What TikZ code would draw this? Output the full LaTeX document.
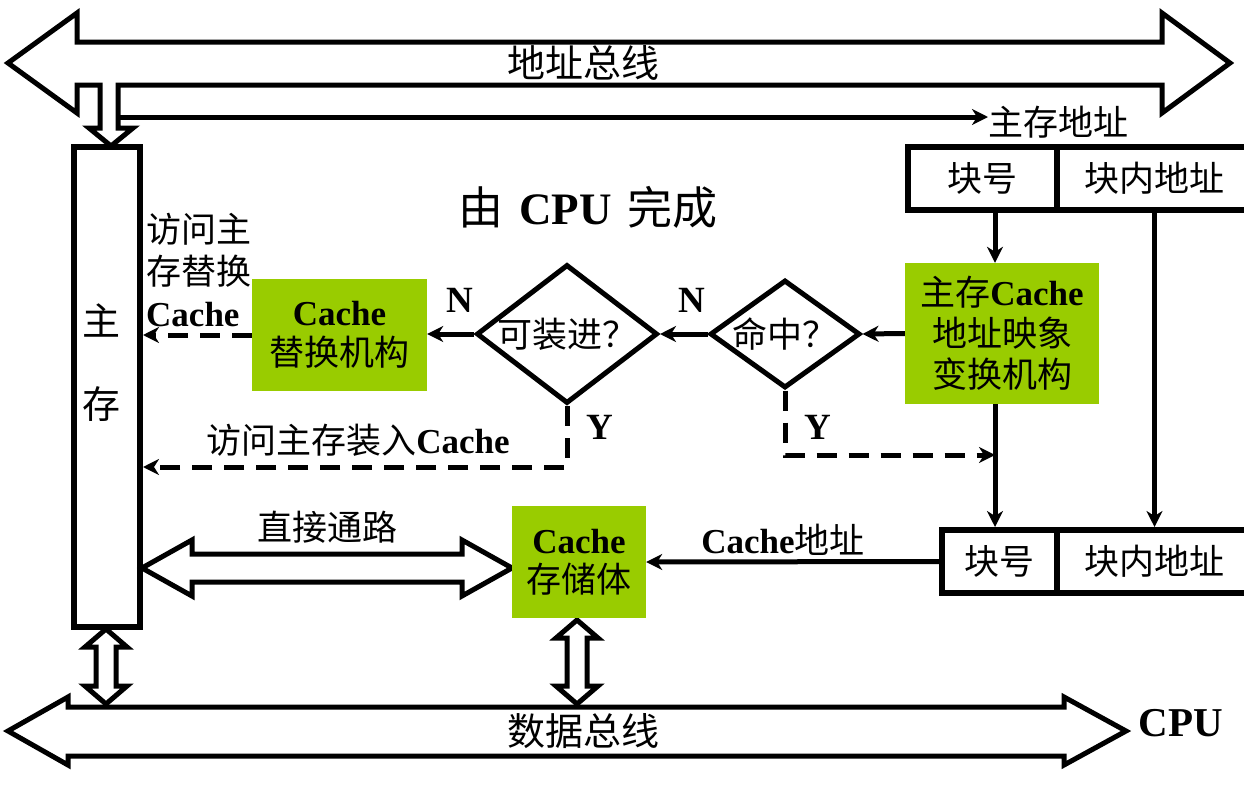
\documentclass[tikz,border=0pt]{standalone}
\usepackage{fontspec}
\setmainfont{Noto Sans CJK SC}
\newfontfamily\tnr{Liberation Serif}
\newcommand{\en}[1]{{\tnr\bfseries #1}}
\usetikzlibrary{arrows.meta,shapes.geometric}
\definecolor{leaf}{RGB}{153,204,0}
\tikzset{
  ar/.style={-{Stealth[length=16pt,width=16pt,inset=5pt]},line width=5pt},
  dar/.style={ar,dash pattern=on 20pt off 12pt},
  bus/.style={line width=5pt,fill=white,line join=miter},
  box/.style={draw,line width=6pt,minimum height=63pt,inner sep=0pt},
  unit/.style={fill=leaf,inner sep=0pt,align=center,font=\fontsize{35}{41}\selectfont},
  test/.style={diamond,draw,line width=5pt,inner sep=-8pt},
  every node/.append style={font=\fontsize{35}{41}\selectfont}
}
\begin{document}
\begin{tikzpicture}[x=1pt,y=-1pt]
\useasboundingbox (0,0) rectangle (1244,795);
\clip (0,0) rectangle (1244,795);
\draw[bus] (8,63) -- (77,13) -- (77,42) -- (1162,42) -- (1162,13) -- (1230,63) -- (1162,113) -- (1162,85)
  -- (118,85) -- (118,128) -- (133,128) -- (111,146) -- (89,128) -- (100,128) -- (100,85) -- (77,85) -- (77,113) -- cycle;
\draw[bus] (8,731) -- (68,697) -- (68,707) -- (1064,707) -- (1064,697) -- (1126,731) -- (1064,765) -- (1064,756)
  -- (68,756) -- (68,765) -- cycle;
\draw[bus] (142,568) -- (192,540) -- (192,554) -- (462,554) -- (462,540) -- (512,568) -- (462,596) -- (462,582)
  -- (192,582) -- (192,596) -- cycle;
\foreach \x/\a/\b in {106/629/704,577/620/704}
  \draw[bus] (\x,\a) -- ++(21,18) -- ++(-11,0) -- (\x+10,\b-18) -- ++(11,0) -- (\x,\b) -- ++(-21,-18) -- ++(11,0)
    -- (\x-10,\a+18) -- ++(-11,0) -- cycle;
\node[font=\fontsize{38}{41}\selectfont] (abus) at (583,63) {地址总线};
\node[font=\fontsize{38}{41}\selectfont] (dbus) at (583,731) {数据总线};
\node[font=\fontsize{41}{48}\selectfont] (cpu) at (1181,723) {\en{CPU}};
\node[font=\fontsize{45}{48}\selectfont] (title) at (588,207) {由\hspace{16pt}\en{CPU}\hspace{16pt}完成};
\node[draw,line width=6pt,minimum width=66pt,minimum height=480pt] (mem) at (107,387) {};
\node[align=center,font=\fontsize{38}{83}\selectfont] (memtxt) at (101,363) {主\\存};
\coordinate (br) at (118,117);
\node[anchor=west,inner sep=0pt] (mainaddr) at (988,122) {主存地址};
\draw[ar] (br) -- (mainaddr.west |- br);
\node[box,minimum width=149pt] (blk1) at (982.5,178.5) {块号};
\node[box,minimum width=195pt] (blk2) at (1154.5,178.5) {块内地址};
\node[box,minimum width=115pt] (cblk1) at (999.5,561.5) {块号};
\node[box,minimum width=195pt] (cblk2) at (1154.5,561.5) {块内地址};
\node[unit,minimum width=194pt,minimum height=141pt] (map) at (1002,333.5) {主存\en{Cache}\\地址映象\\变换机构};
\node[unit,minimum width=175pt,minimum height=112pt,font=\fontsize{35}{40}\selectfont] (repl) at (339.5,335) {\en{Cache}\\替换机构};
\node[unit,minimum width=134pt,minimum height=112pt,font=\fontsize{35}{39}\selectfont] (store) at (579,562) {\en{Cache}\\存储体};
\node[test,aspect=1.45,minimum width=150pt,minimum height=108pt] (hit) at (785,334) {命中？};
\node[test,aspect=1.3,minimum width=181pt,minimum height=139pt] (fit) at (567,334) {可装进？};
\node[font=\fontsize{37}{41}\selectfont] (n1) at (460,300) {\en{N}};
\node[font=\fontsize{37}{41}\selectfont] (n2) at (692,300) {\en{N}};
\node[font=\fontsize{37}{41}\selectfont] (y1) at (600,427) {\en{Y}};
\node[font=\fontsize{37}{41}\selectfont] (y2) at (818,427) {\en{Y}};
\node[anchor=north west,align=left,inner sep=0pt,font=\fontsize{35}{42}\selectfont] (rlab) at (146,213) {访问主\\存替换\\\en{Cache}};
\node (ldlab) at (358,440) {访问主存装入\en{Cache}};
\node (direct) at (327,527) {直接通路};
\node (caddr) at (783,540) {\en{Cache}地址};
\coordinate (xa) at (995,0);
\coordinate (ld) at (fit.south |- 0,467);
\coordinate (hy) at (hit.south |- 0,455);
\draw[ar] (blk1.south -| xa) -- (map.north -| xa);
\draw[ar] (map.west) -- (hit.east);
\draw[ar] (hit.west) -- (fit.east);
\draw[ar] (fit.west) -- (fit.west -| repl.east);
\draw[dar] (repl.west) -- (repl.west -| mem.east);
\draw[dar] (fit.south) -- (ld) -- (ld -| mem.east);
\draw[dar] (hit.south) -- (hy) -- (hy -| xa);
\draw[ar] (map.south -| xa) -- (cblk1.north -| xa);
\draw[ar] (blk2.south) -- (cblk2.north);
\draw[ar] (cblk1.west) -- (store.east);
\end{tikzpicture}
\end{document}
